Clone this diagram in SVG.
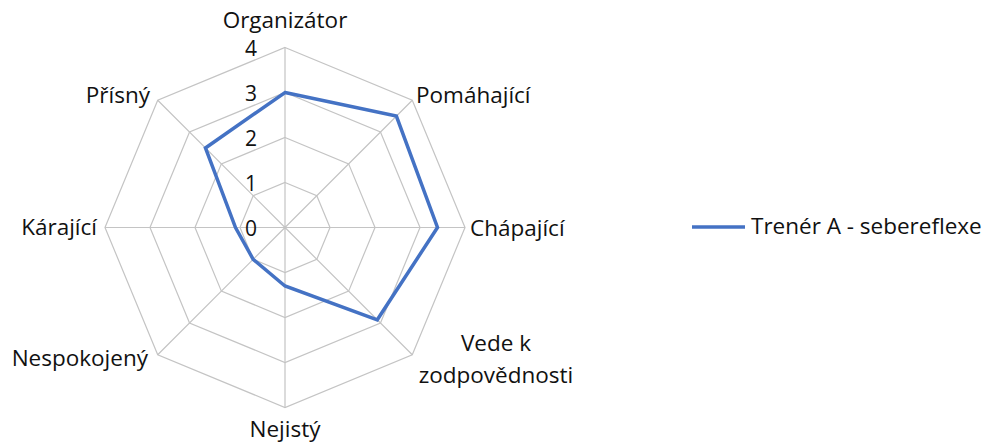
<svg xmlns="http://www.w3.org/2000/svg" width="997" height="448" viewBox="0 0 997 448">
<style>
.grid{fill:none;stroke:#c4c4c4;stroke-width:1.2}
.series{fill:none;stroke:#4472C4;stroke-width:3.5;stroke-linejoin:miter}
.lbl{font-family:"Open Sans","Liberation Sans",sans-serif;font-size:22.5px;fill:#111111}
.tick{font-family:"Open Sans","Liberation Sans",sans-serif;font-size:21px;fill:#111111;text-anchor:end}
</style>
<rect width="997" height="448" fill="#ffffff"/>
<g id="grid">
<polygon class="grid" points="285,47.5 412.28,100.22 465,227.5 412.28,354.78 285,407.5 157.72,354.78 105,227.5 157.72,100.22"/>
<polygon class="grid" points="285,92.5 380.46,132.04 420,227.5 380.46,322.96 285,362.5 189.54,322.96 150,227.5 189.54,132.04"/>
<polygon class="grid" points="285,137.5 348.64,163.86 375,227.5 348.64,291.14 285,317.5 221.36,291.14 195,227.5 221.36,163.86"/>
<polygon class="grid" points="285,182.5 316.82,195.68 330,227.5 316.82,259.32 285,272.5 253.18,259.32 240,227.5 253.18,195.68"/>
<path class="grid" d="M285,227.5L285,47.5M285,227.5L412.28,100.22M285,227.5L465,227.5M285,227.5L412.28,354.78M285,227.5L285,407.5M285,227.5L157.72,354.78M285,227.5L105,227.5M285,227.5L157.72,100.22"/>
</g>
<g id="ticks">
<text class="tick" x="257" y="56">4</text>
<text class="tick" x="257" y="101">3</text>
<text class="tick" x="257" y="146">2</text>
<text class="tick" x="257" y="191">1</text>
<text class="tick" x="257" y="236">0</text>
</g>
<g id="series">
<polygon class="series" points="285,92.5 396.37,116.13 437.5,227.5 377.28,319.78 285,286 253.18,259.32 235.5,227.5 205.45,147.95"/>
</g>
<g id="labels">
<text class="lbl" x="285" y="28" text-anchor="middle">Organizátor</text>
<text class="lbl" x="416" y="103">Pomáhající</text>
<text class="lbl" x="470" y="236">Chápající</text>
<text class="lbl" x="496" y="351" text-anchor="middle">Vede k</text>
<text class="lbl" x="496" y="383" text-anchor="middle">zodpovědnosti</text>
<text class="lbl" x="285" y="437" text-anchor="middle">Nejistý</text>
<text class="lbl" x="148" y="366" text-anchor="end">Nespokojený</text>
<text class="lbl" x="97" y="235" text-anchor="end">Kárající</text>
<text class="lbl" x="150" y="103" text-anchor="end">Přísný</text>
</g>
<g id="legend">
<line x1="692" y1="227" x2="745" y2="227" stroke="#4472C4" stroke-width="3.5"/>
<text class="lbl" x="751" y="234">Trenér A - sebereflexe</text>
</g>
</svg>
